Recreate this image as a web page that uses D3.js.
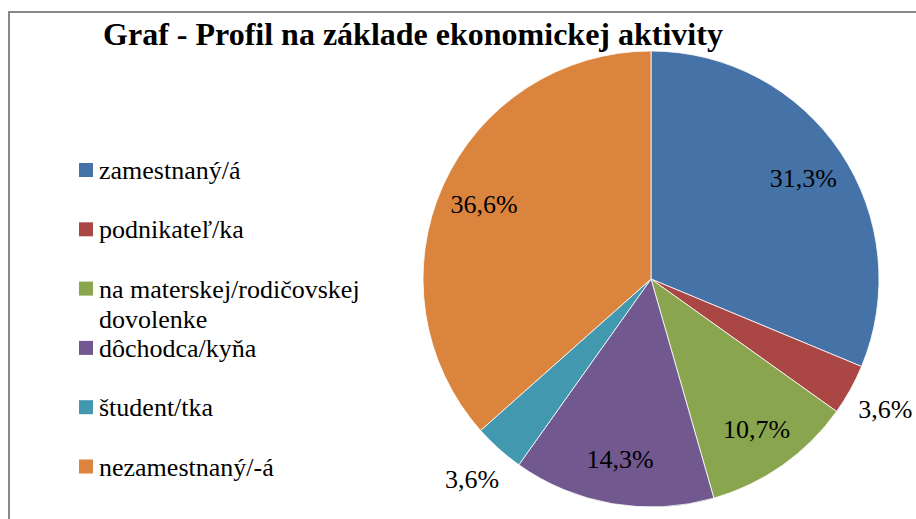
<!DOCTYPE html>
<html>
<head>
<meta charset="utf-8">
<script src="https://cdn.jsdelivr.net/npm/d3@7"></script>
<style>
    body { margin: 0; background: #fff; }
</style>
</head>
<body>
<svg id="chart" width="916" height="519"></svg>
<script>
// Data
const categories = ["zamestnaný/á", "podnikateľ/ka", "na materskej/rodičovskej dovolenke",
                    "dôchodca/kyňa", "študent/tka", "nezamestnaný/-á"];
const values = [31.3, 3.6, 10.7, 14.3, 3.6, 36.6];
const palette = ["#4572a7", "#aa4643", "#89a54e", "#71588f", "#4198af", "#db843d"];
const title = "Graf - Profil na základe ekonomickej aktivity";

const data = categories.map((c, i) => ({ name: c, value: values[i] }));
const serif = "Liberation Serif";

const svg = d3.select("#chart");

// chart frame (runs off the right and bottom edge)
svg.append("rect")
    .attr("x", 9).attr("y", 12)
    .attr("width", 1000).attr("height", 1000)
    .attr("fill", "none")
    .attr("stroke", "#888")
    .attr("stroke-width", 2);

// Title
svg.append("text")
    .attr("x", 413).attr("y", 45)
    .attr("text-anchor", "middle")
    .attr("font-family", serif)
    .attr("font-size", 32)
    .attr("font-weight", "bold")
    .text(title);

const color = d3.scaleOrdinal().domain(categories).range(palette);

// Pie
const cx = 651, cy = 279, radius = 228;
const g = svg.append("g").attr("transform", `translate(${cx},${cy})`);

const pie = d3.pie().sort(null).value(d => d.value);
const arc = d3.arc().innerRadius(0).outerRadius(radius);
const arcs = pie(data);

g.selectAll("path")
    .data(arcs)
    .enter().append("path")
    .attr("d", arc)
    .attr("fill", d => color(d.data.name))
    .attr("stroke", "#fff")
    .attr("stroke-width", 0.8);

// Labels: big slices inside, tiny ones outside
const inside = d3.arc().innerRadius(183).outerRadius(183);
const outside = d3.arc().innerRadius(268).outerRadius(268);
const fmt = v => v.toFixed(1).replace(".", ",") + "%";

g.selectAll(".lbl")
    .data(arcs)
    .enter().append("text")
    .attr("class", "lbl")
    .attr("transform", d => `translate(${(d.data.value < 5 ? outside : inside).centroid(d)})`)
    .attr("text-anchor", "middle")
    .attr("dy", "0.35em")
    .attr("font-family", serif)
    .attr("font-size", 26)
    .text(d => fmt(d.data.value));

// Legend
const ly = d3.scalePoint().domain(categories).range([170, 466.5]);
const legend = svg.selectAll(".legend")
    .data(categories)
    .enter().append("g")
    .attr("class", "legend")
    .attr("transform", d => `translate(79,${ly(d)})`);

legend.append("rect")
    .attr("y", -7)
    .attr("width", 14).attr("height", 14)
    .attr("fill", d => color(d));

// long names break after the second word
legend.append("text")
    .attr("y", 9)
    .attr("font-family", serif)
    .attr("font-size", 26)
    .selectAll("tspan")
    .data(d => {
        const w = d.split(" ");
        return w.length > 2 ? [w.slice(0, 2).join(" "), w.slice(2).join(" ")] : [d];
    })
    .enter().append("tspan")
    .attr("x", 20)
    .attr("dy", (d, i) => i ? 30 : 0)
    .text(d => d);
</script>
</body>
</html>
